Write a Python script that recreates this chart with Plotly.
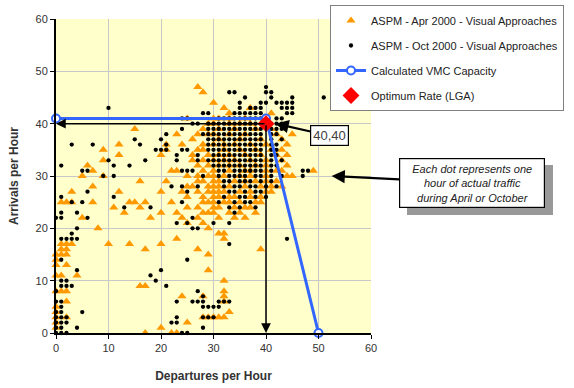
import plotly.graph_objects as go

# ---------------- data ----------------
# ASPM - Oct 2000 (black dots): rows of arrivals -> departures
oct_rows = {
    47: [40],
    46: [33, 34, 40, 41],
    45: [36, 41, 45, 51],
    44: [35, 39, 40, 42, 43, 44, 45],
    43: [10, 35, 37, 38, 39, 43, 44, 45],
    42: [28, 29, 34, 35, 36, 37, 38, 39, 44, 45],
    41: [24, 25, 31, 32, 33, 34, 35, 36, 37, 38, 39, 42, 43],
    40: [26, 27, 29, 30, 31, 32, 33, 34, 35, 36, 37, 38, 39, 41, 42, 43],
    39: [24, 29, 30, 31, 32, 33, 34, 35, 36, 37, 38, 39, 41, 42, 43],
    38: [21, 28, 29, 30, 31, 32, 33, 34, 35, 36, 37, 38, 39, 41, 42],
    37: [15, 20, 29, 30, 31, 32, 33, 34, 35, 36, 37, 38, 39, 41, 43],
    36: [3, 7, 16, 21, 29, 30, 31, 32, 33, 34, 35, 36, 37, 38, 39, 41, 42],
    35: [19, 20, 21, 24, 25, 29, 30, 31, 32, 33, 34, 35, 36, 37, 38, 39, 41, 42],
    34: [23, 27, 30, 31, 32, 33, 34, 35, 36, 37, 38, 39, 41, 42],
    33: [10, 17, 23, 27, 29, 30, 31, 32, 33, 34, 35, 36, 37, 38, 39, 41, 43],
    32: [1, 11, 14, 30, 31, 32, 33, 34, 35, 36, 37, 38, 39, 41, 42],
    31: [5, 6, 24, 25, 26, 31, 32, 34, 35, 36, 37, 38, 39, 41, 47, 48],
    30: [9, 11, 28, 31, 33, 34, 35, 36, 38, 39, 41, 43, 47],
    29: [32, 33, 35, 36, 37, 39, 41],
    28: [22, 24, 27, 32, 34, 35, 37, 38, 40, 42],
    27: [6, 25, 33, 34, 36, 38, 39],
    26: [1, 11, 32, 35, 36, 38, 40],
    25: [3, 5, 24, 31, 34, 36, 37],
    24: [13, 18, 33, 35, 38],
    23: [1, 4, 34],
    22: [0, 1, 6, 26],
    21: [23, 25, 30, 33],
    20: [4, 26, 27],
    19: [3],
    18: [1, 2, 3, 4, 44],
    17: [33],
    14: [1, 25],
    12: [4, 20],
    11: [18],
    10: [1, 2, 19],
    9: [1, 2, 3, 21],
    8: [0, 27],
    7: [28],
    6: [0, 1, 23, 26, 27, 28, 31, 32, 33],
    5: [1, 28, 29, 30, 31],
    4: [0, 1, 5],
    3: [0, 1, 2, 23, 28, 29, 30],
    2: [0, 1, 2, 22, 23],
    1: [0, 1, 4, 28],
    0: [0, 1, 2, 24, 25],
}

# ASPM - Apr 2000 (orange triangles): rows of arrivals -> departures
apr_rows = {
    47: [27],
    46: [28],
    44: [30],
    43: [32, 37],
    42: [33, 41],
    41: [25, 30, 31, 33, 36],
    40: [29, 30, 33, 35, 37],
    39: [15, 28, 31, 34, 38, 41],
    38: [23, 27, 29, 30, 33, 36, 42, 45],
    37: [26, 31, 35, 39, 43],
    36: [12, 21, 24, 28, 30, 32, 34, 37, 40, 44],
    35: [9, 21, 27, 28, 32, 35, 38, 41, 43],
    34: [12, 20, 26, 29, 31, 33, 36, 39, 42, 44],
    33: [9, 26, 28, 30, 32, 34, 37, 40, 43],
    32: [6, 27, 29, 31, 33, 35, 38, 40, 44],
    31: [7, 22, 23, 28, 30, 33, 36, 37, 40, 42, 43, 49],
    30: [5, 9, 25, 27, 29, 30, 32, 35, 37, 40, 44, 45],
    29: [16, 21, 27, 28, 30, 31, 34, 36, 38, 40, 42],
    28: [7, 25, 26, 29, 30, 31, 33, 36, 39, 41, 43],
    27: [3, 12, 20, 24, 27, 29, 30, 31, 32, 35, 37, 40, 41],
    26: [25, 28, 30, 31, 33, 34, 37, 39],
    25: [1, 2, 3, 7, 14, 15, 17, 22, 28, 29, 30, 32, 33, 35, 38, 39],
    24: [11, 16, 25, 27, 30, 31, 34, 36, 37],
    23: [13, 20, 23, 28, 29, 30, 33, 35, 38],
    22: [5, 18, 24, 27, 31, 34, 36],
    21: [25, 28],
    20: [8, 29],
    19: [31, 32],
    18: [23, 32],
    17: [1, 2, 3, 10, 14, 20],
    16: [1, 2, 17, 27, 39],
    15: [0, 1, 2, 29],
    14: [0],
    13: [0, 2],
    12: [29],
    11: [0, 1, 4],
    10: [32],
    9: [16, 17],
    8: [0, 1, 2, 32],
    7: [24, 28, 32],
    6: [2, 32],
    5: [0],
    4: [0, 33],
    3: [0, 2, 28, 29, 30, 31, 32],
    2: [0, 25],
    1: [0, 20],
    0: [17, 22, 23],
}

vmc_departures = [0, 40, 50]
vmc_arrivals = [41, 41, 0]

optimum_departures = [40]
optimum_arrivals = [40]

ticks = [0, 10, 20, 30, 40, 50, 60]


def flatten(rows):
    xs, ys = [], []
    for yv, xlist in rows.items():
        for xv in xlist:
            xs.append(xv)
            ys.append(yv)
    return xs, ys


apr_x, apr_y = flatten(apr_rows)
oct_x, oct_y = flatten(oct_rows)

FONT = "Arial, Liberation Sans, sans-serif"

fig = go.Figure()

fig.add_trace(go.Scatter(
    x=apr_x, y=apr_y, mode="markers", name="ASPM - Apr 2000 - Visual Approaches",
    legendgroup="a", cliponaxis=False,
    marker=dict(symbol="triangle-up", size=8, color="#FF9900", line=dict(width=0)),
))
fig.add_trace(go.Scatter(
    x=oct_x, y=oct_y, mode="markers", name="ASPM - Oct 2000 - Visual Approaches",
    legendgroup="b", cliponaxis=False,
    marker=dict(symbol="circle", size=4.3, color="#000000", line=dict(width=0)),
))
fig.add_trace(go.Scatter(
    x=vmc_departures, y=vmc_arrivals, mode="lines+markers", name="Calculated VMC Capacity",
    legendgroup="c", cliponaxis=False,
    line=dict(color="#3366FF", width=3),
    marker=dict(symbol="circle", size=8, color="white", line=dict(color="#3366FF", width=2)),
))
fig.add_trace(go.Scatter(
    x=optimum_departures, y=optimum_arrivals, mode="markers", name="Optimum Rate (LGA)",
    legendgroup="d", cliponaxis=False,
    marker=dict(symbol="diamond", size=13, color="#FF0000", line=dict(width=0)),
))

# black guide arrows from the optimum point to the axes
fig.add_annotation(x=0, y=40, ax=40, ay=40, xref="x", yref="y", axref="x", ayref="y",
                   text="", showarrow=True, arrowhead=2, arrowsize=1.3, arrowwidth=1.5,
                   arrowcolor="black")
fig.add_annotation(x=40, y=0, ax=40, ay=40, xref="x", yref="y", axref="x", ayref="y",
                   text="", showarrow=True, arrowhead=2, arrowsize=1.3, arrowwidth=1.5,
                   arrowcolor="black")

# "40,40" label
fig.add_annotation(x=41.8, y=40, xref="x", yref="y", text="40,40", showarrow=True,
                   ax=54, ay=12, arrowhead=2, arrowsize=1.2, arrowwidth=2.2, arrowcolor="black",
                   font=dict(family=FONT, size=13, color="#404040"),
                   bgcolor="white", bordercolor="black", borderwidth=1.2, borderpad=2)

# callout shadow
fig.add_shape(type="rect", xref="paper", yref="paper",
              x0=(407 - 56) / 315, x1=(553 - 56) / 315,
              y0=(333 - 215) / 314, y1=(333 - 165) / 314,
              fillcolor="#999999", line=dict(width=0), layer="above")
# callout
fig.add_annotation(x=52.5, y=30, xref="x", yref="y",
                   text="<i>Each dot represents one<br>hour of actual traffic<br>during April or October</i>",
                   showarrow=True, ax=140, ay=7, arrowhead=2, arrowsize=1.2, arrowwidth=2.2,
                   arrowcolor="black", width=142, height=46,
                   font=dict(family=FONT, size=11, color="#222222"),
                   bgcolor="white", bordercolor="black", borderwidth=1.2, borderpad=1)

axis_common = dict(
    range=[0, 60], tickvals=ticks, showgrid=True, gridcolor="#C8C8C8", gridwidth=1,
    zeroline=False, showline=True, linecolor="black", linewidth=2,
    ticks="outside", ticklen=4, tickcolor="black", tickwidth=1,
    tickfont=dict(family=FONT, size=11, color="#333333"),
    fixedrange=True,
)

fig.update_layout(
    width=574, height=388,
    margin=dict(l=56, r=203, t=19, b=55, autoexpand=False),
    paper_bgcolor="white", plot_bgcolor="#FFFFCC",
    showlegend=True,
    legend=dict(xref="container", yref="container",
                x=330 / 574, y=1 - 5 / 388, xanchor="left", yanchor="top",
                bgcolor="white", bordercolor="#808080", borderwidth=1,
                font=dict(family=FONT, size=11, color="#222222"),
                tracegroupgap=6, traceorder="grouped"),
    xaxis=dict(axis_common, title=dict(text="<b>Departures per Hour</b>", standoff=18,
                                       font=dict(family=FONT, size=12, color="#333333"))),
    yaxis=dict(axis_common, title=dict(text="<b>Arrivals per Hour</b>", standoff=14,
                                       font=dict(family=FONT, size=12, color="#333333"))),
    hovermode=False,
)

fig.write_html("out.html", config={"displayModeBar": False})
